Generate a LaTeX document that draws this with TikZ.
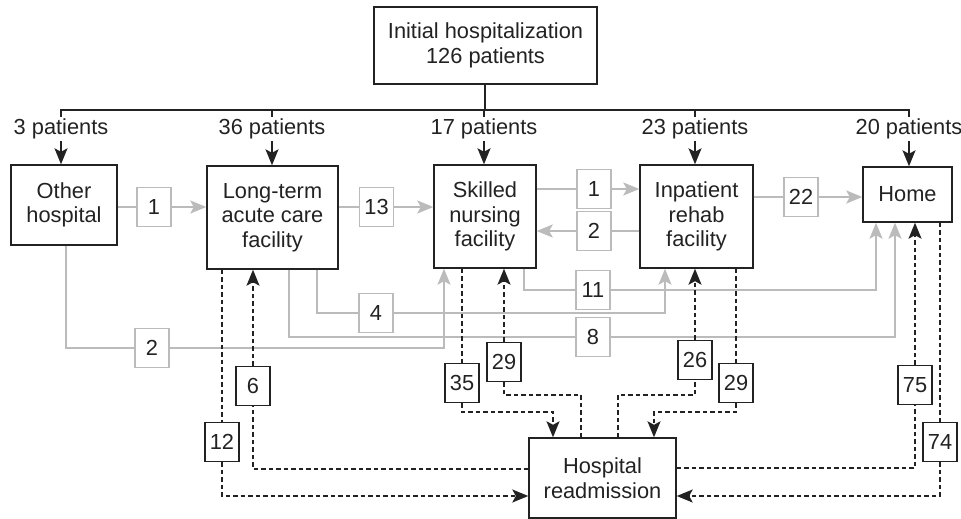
\documentclass[tikz,border=0pt]{standalone}
\usepackage{fontspec}
\setmainfont{Liberation Sans}
\usetikzlibrary{arrows.meta}

\definecolor{flowgray}{HTML}{BBBBBB}
\definecolor{ink}{HTML}{222222}

\begin{document}
\begin{tikzpicture}[x=1pt,y=-1pt,
  font=\fontsize{21.8}{24.5}\selectfont,
  every node/.style={text=ink},
  box/.style={draw=ink, line width=1.4pt, align=center, inner sep=0pt},
  gcount/.style={draw=flowgray, line width=1.8pt, minimum width=34pt, minimum height=39pt, inner sep=0pt, fill=white},
  dcount/.style={draw=ink, line width=1.4pt, minimum width=34pt, minimum height=39pt, inner sep=0pt, fill=white},
  plabel/.style={inner sep=2pt},
  gline/.style={draw=flowgray, line width=2pt},
  dline/.style={draw=ink, line width=1.5pt, dash pattern=on 4.5pt off 3pt},
  gtip/.style={-{Stealth[length=16pt,width=13pt,inset=3.5pt]}, flowgray},
  btip/.style={-{Stealth[length=16pt,width=13pt,inset=3.5pt]}},
]
\useasboundingbox (0,0) rectangle (961,519);

% main boxes
\node[box, minimum width=223pt, minimum height=77pt] (init) at (485.5,45.5) {Initial hospitalization\\126 patients};
\node[box, minimum width=106pt, minimum height=80pt] (oh) at (64,205) {Other\\hospital};
\node[box, minimum width=131pt, minimum height=103pt] (ltac) at (272.5,217.5) {Long-term\\acute care\\facility};
\node[box, minimum width=102pt, minimum height=103pt] (snf) at (485,216.5) {Skilled\\nursing\\facility};
\node[box, minimum width=113pt, minimum height=103pt] (irf) at (696.5,216.5) {Inpatient\\rehab\\facility};
\node[box, minimum width=89pt, minimum height=55pt] (home) at (907.5,194.5) {Home};
\node[box, minimum width=147pt, minimum height=80pt] (readm) at (602.5,478) {Hospital\\readmission};

% discharge destinations after the initial stay
\node[plabel] (p3) at (61,129) {3 patients};
\node[plabel] (p36) at (272,129) {36 patients};
\node[plabel] (p17) at (484,129) {17 patients};
\node[plabel] (p23) at (695,129) {23 patients};
\node[plabel] (p20) at (909,129) {20 patients};

\coordinate (bar) at (485,110);
\draw[ink, line width=1.5pt] (init.south -| bar) -- (bar);
\draw[ink, line width=1.5pt] (p3.north) |- (bar) -| (p20.north);
\foreach \p in {p36,p17,p23}
  \draw[ink, line width=1.5pt] (bar -| \p.north) -- (\p.north);

\draw[ink, line width=1.5pt, btip] (p3.south) -- (p3.south |- oh.north);
\draw[ink, line width=1.5pt, btip] (p36.south) -- (p36.south |- ltac.north);
\draw[ink, line width=1.5pt, btip] (p17.south) -- (p17.south |- snf.north);
\draw[ink, line width=1.5pt, btip] (p23.south) -- (p23.south |- irf.north);
\draw[ink, line width=1.5pt, btip] (p20.south) -- (p20.south |- home.north);

% transfers between facilities (gray)
\node[gcount] (g1) at (154,207) {1};
\node[gcount] (g13) at (376.5,207) {13};
\node[gcount] (gs1) at (594,189) {1};
\node[gcount] (gi2) at (594,231) {2};
\node[gcount] (g22) at (801,197) {22};
\node[gcount] (g11) at (593,290) {11};
\node[gcount] (g4) at (376,313) {4};
\node[gcount] (g8) at (593,337) {8};
\node[gcount] (g2) at (152,348) {2};

\draw[gline] (oh.east |- g1) -- (g1);
\draw[gline, gtip] (g1) -- (ltac.west |- g1);
\draw[gline] (ltac.east |- g13) -- (g13);
\draw[gline, gtip] (g13) -- (snf.west |- g13);
\draw[gline] (snf.east |- gs1) -- (gs1);
\draw[gline, gtip] (gs1) -- (irf.west |- gs1);
\draw[gline] (irf.west |- gi2) -- (gi2);
\draw[gline, gtip] (gi2) -- (snf.east |- gi2);
\draw[gline] (irf.east |- g22) -- (g22);
\draw[gline, gtip] (g22) -- (home.west |- g22);

\draw[gline] (524,0 |- snf.south) |- (g11);
\draw[gline, gtip] (g11) -| (876,0 |- home.south);
\draw[gline] (317,0 |- ltac.south) |- (g4);
\draw[gline, gtip] (g4) -| (665,0 |- irf.south);
\draw[gline] (289,0 |- ltac.south) |- (g8);
\draw[gline, gtip] (g8) -| (895,0 |- home.south);
\draw[gline] (66,0 |- oh.south) |- (g2);
\draw[gline, gtip] (g2) -| (444,0 |- snf.south);

% readmissions and returns (dashed)
\node[dcount] (d12) at (222,442) {12};
\node[dcount] (d6) at (253,386) {6};
\node[dcount] (d35) at (462,383) {35};
\node[dcount] (d29a) at (504,362) {29};
\node[dcount] (d26) at (695,360) {26};
\node[dcount] (d29b) at (736,383) {29};
\node[dcount] (d75) at (915,385) {75};
\node[dcount] (d74) at (940,442) {74};

\draw[dline] (d12 |- ltac.south) -- (d12);
\draw[dline, btip] (d12) |- (readm.west |- 0,496);
\draw[dline] (readm.west |- 0,469) -| (d6);
\draw[dline, btip] (d6) -- (d6 |- ltac.south);

\draw[dline] (d35 |- snf.south) -- (d35);
\draw[dline, btip] (d35) |- (553,412) -- (553,0 |- readm.north);
\draw[dline] (581,0 |- readm.north) |- (d29a.south |- 0,395) -- (d29a);
\draw[dline, btip] (d29a) -- (d29a |- snf.south);

\draw[dline] (618,0 |- readm.north) |- (d26.south |- 0,395) -- (d26);
\draw[dline, btip] (d26) -- (d26 |- irf.south);
\draw[dline] (d29b |- irf.south) -- (d29b);
\draw[dline, btip] (d29b) |- (654,412) -- (654,0 |- readm.north);

\draw[dline] (readm.east |- 0,468) -| (d75);
\draw[dline, btip] (d75) -- (d75 |- home.south);
\draw[dline] (d74 |- home.south) -- (d74);
\draw[dline, btip] (d74) |- (readm.east |- 0,496);
\end{tikzpicture}
\end{document}
